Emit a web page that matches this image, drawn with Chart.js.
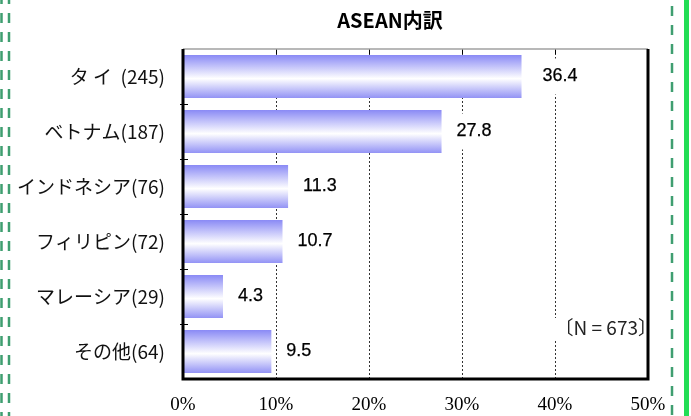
<!DOCTYPE html>
<html lang="ja">
<head>
    <meta charset="UTF-8">
    <title>ASEAN内訳</title>
    <style>
        html, body { margin: 0; padding: 0; background: #fff; }
        #wrap { width: 691px; height: 416px; }
    </style>
</head>
<body>
    <div id="wrap">
        <canvas id="chart" width="691" height="416"></canvas>
    </div>

    <script src="https://cdn.jsdelivr.net/npm/chart.js"></script>
<script>
    // chart data
    const categories = ['タ イ  (245)', 'ベトナム(187)', 'インドネシア(76)', 'フィリピン(72)', 'マレーシア(29)', 'その他(64)'];
    const shares = [36.4, 27.8, 11.3, 10.7, 4.3, 9.5];
    const xTicks = [0, 10, 20, 30, 40, 50];
    const chartTitle = 'ASEAN内訳';
    const sampleNote = '〔N = 673〕';

    const jpFont = '"Noto Sans CJK JP", "Noto Sans", sans-serif';

    // vertical gradient for each bar (blue - white - blue)
    function barGradient(context) {
        const chart = context.chart;
        const yScale = chart.scales.y;
        if (!chart.chartArea || !yScale) return '#9a9af5';
        const center = yScale.getPixelForValue(context.dataIndex);
        const half = (yScale.height / categories.length) * 0.78 / 2;
        const g = chart.ctx.createLinearGradient(0, center - half, 0, center + half);
        g.addColorStop(0, '#8a8af5');
        g.addColorStop(0.55, '#ffffff');
        g.addColorStop(1, '#9393f5');
        return g;
    }

    // frame, small ticks, value labels, title, note and green page borders
    const extras = {
        id: 'extras',
        afterDraw(chart) {
            const ctx = chart.ctx;
            const a = chart.chartArea;
            const xs = chart.scales.x;
            ctx.save();

            // value labels sit on white boxes that hide the gridlines
            const meta = chart.getDatasetMeta(0);
            ctx.font = '18px "Liberation Sans", Arial, sans-serif';
            ctx.textAlign = 'left';
            ctx.textBaseline = 'middle';
            meta.data.forEach((bar, i) => {
                const txt = shares[i].toFixed(1);
                const w = ctx.measureText(txt).width;
                const x0 = bar.x + (i === 0 ? 21 : 15);
                ctx.fillStyle = '#fff';
                ctx.fillRect(x0 - 4, bar.y - 18, w + 8, 36);
                ctx.fillStyle = '#000';
                ctx.strokeStyle = '#000';
                ctx.lineWidth = 0.25;
                ctx.fillText(txt, x0, bar.y);
                ctx.strokeText(txt, x0, bar.y);
            });

            // sample size note
            ctx.font = '19px ' + jpFont;
            ctx.textAlign = 'right';
            const nw = ctx.measureText(sampleNote).width;
            ctx.fillStyle = '#fff';
            ctx.fillRect(a.right + 9 - nw, 318, nw - 10, 21);
            ctx.fillStyle = '#222';
            ctx.fillText(sampleNote, a.right + 9, 328);

            // top ticks at gridlines
            ctx.strokeStyle = '#000';
            ctx.lineWidth = 1;
            xTicks.slice(1, -1).forEach(v => {
                const px = Math.round(xs.getPixelForValue(v)) + 0.5;
                ctx.beginPath();
                ctx.moveTo(px, a.top);
                ctx.lineTo(px, a.top + 5);
                ctx.stroke();
            });

            // left ticks at category boundaries
            const step = (a.bottom - a.top) / categories.length;
            for (let i = 1; i < categories.length; i++) {
                const py = Math.round(a.top + step * i) + 0.5;
                ctx.beginPath();
                ctx.moveTo(a.left - 3, py);
                ctx.lineTo(a.left + 5, py);
                ctx.stroke();
            }

            // frame
            ctx.strokeStyle = '#a0a0a0';
            ctx.lineWidth = 1.5;
            ctx.beginPath();
            ctx.moveTo(a.left, a.top);
            ctx.lineTo(a.right, a.top);
            ctx.stroke();
            ctx.strokeStyle = '#000';
            ctx.lineWidth = 3;
            ctx.beginPath();
            ctx.moveTo(a.left, a.top);
            ctx.lineTo(a.left, a.bottom);
            ctx.lineTo(a.right, a.bottom);
            ctx.lineTo(a.right, a.top);
            ctx.stroke();

            // title
            ctx.fillStyle = '#000';
            ctx.font = 'bold 20px ' + jpFont;
            ctx.textAlign = 'center';
            ctx.fillText(chartTitle, 390, 20);

            // green dashed borders
            ctx.setLineDash([10, 9]);
            ctx.strokeStyle = '#3f9e70';
            ctx.lineWidth = 2.5;
            ctx.lineDashOffset = 6;
            [1.5, 9].forEach(x => {
                ctx.beginPath();
                ctx.moveTo(x, 0);
                ctx.lineTo(x, 416);
                ctx.stroke();
            });
            ctx.lineDashOffset = 0;
            ctx.beginPath();
            ctx.moveTo(672, 6);
            ctx.lineTo(672, 416);
            ctx.stroke();
            ctx.setLineDash([]);
            ctx.strokeStyle = '#22dd55';
            ctx.lineWidth = 5;
            ctx.beginPath();
            ctx.moveTo(686.5, 0);
            ctx.lineTo(686.5, 416);
            ctx.stroke();

            ctx.restore();
        }
    };

    const chart = new Chart(document.getElementById('chart'), {
        type: 'bar',
        data: {
            labels: categories,
            datasets: [{
                data: shares,
                backgroundColor: barGradient,
                borderWidth: 0,
                barPercentage: 0.78,
                categoryPercentage: 1
            }]
        },
        options: {
            indexAxis: 'y',
            responsive: false,
            animation: false,
            layout: { padding: { top: 49, right: 43, bottom: 0, left: 0 } },
            plugins: {
                legend: { display: false },
                tooltip: { enabled: false }
            },
            scales: {
                x: {
                    min: 0,
                    max: 50,
                    afterFit(scale) { scale.height = 37; },
                    afterBuildTicks(scale) { scale.ticks = xTicks.map(v => ({ value: v })); },
                    ticks: {
                        padding: 15,
                        color: '#000',
                        font: { family: '"Liberation Serif", "Times New Roman", serif', size: 19 },
                        callback: v => v + '%'
                    },
                    grid: {
                        drawTicks: false,
                        lineWidth: 1,
                        color: c => (c.tick && (c.tick.value === 0 || c.tick.value === 50)) ? 'rgba(0,0,0,0)' : '#333'
                    },
                    border: { display: false, dash: [2, 2] }
                },
                y: {
                    afterFit(scale) { scale.width = 183; },
                    ticks: {
                        padding: 18,
                        color: '#111',
                        font: { family: jpFont, size: 19 }
                    },
                    grid: { display: false, drawTicks: false },
                    border: { display: false }
                }
            }
        },
        plugins: [extras]
    });
</script>

</body>
</html>
